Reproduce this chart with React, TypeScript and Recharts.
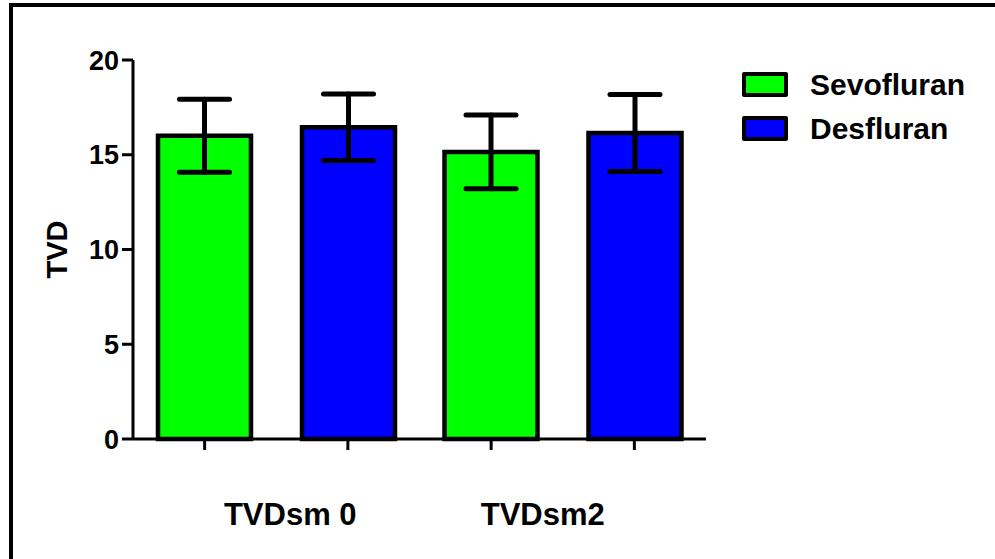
import { BarChart, Bar, XAxis, YAxis, ErrorBar } from "recharts";

const CATEGORIES = ["TVDsm 0", "TVDsm2"];
const SEVO_MEAN = [16.0, 15.15];
const SEVO_SD = [1.93, 1.95];
const DES_MEAN = [16.45, 16.15];
const DES_SD = [1.75, 2.03];
const Y_TICKS = [0, 5, 10, 15, 20];

const SERIES = [
  { key: "sevo", name: "Sevofluran", color: "#00ff00" },
  { key: "des", name: "Desfluran", color: "#0000ff" },
];

const FONT = "Arial, 'Liberation Sans', sans-serif";
const W = 995;
const H = 559;
const MARGIN = { top: 60, right: 289, bottom: 0, left: 13 };
const Y_W = 120;
const X_H = 120;
// small nudges so the category labels sit where the original put them
const LABEL_NUDGE = [14, -20];

const data = CATEGORIES.map((c, i) => ({
  name: c,
  sevo: SEVO_MEAN[i],
  sevoErr: SEVO_SD[i],
  des: DES_MEAN[i],
  desErr: DES_SD[i],
}));

const plotW = W - MARGIN.left - MARGIN.right - Y_W;
const band = plotW / CATEGORIES.length;

function CatTick(props: any) {
  const { x, y, payload, index } = props;
  const q = band / 4;
  return (
    <g>
      {[-q, q].map((d) => (
        <line key={d} x1={x + d} x2={x + d} y1={y} y2={y + 11} stroke="#000" strokeWidth={3} />
      ))}
      <text
        x={x + (LABEL_NUDGE[index] || 0)}
        y={y + 86}
        textAnchor="middle"
        fontFamily={FONT}
        fontWeight="bold"
        fontSize={31}
        fill="#000"
      >
        {payload.value}
      </text>
    </g>
  );
}

function LegendBox() {
  return (
    <div style={{ position: "absolute", left: 742, top: 71, fontFamily: FONT }}>
      {SERIES.map((s) => (
        <div key={s.key} style={{ display: "flex", alignItems: "center", height: 27, marginBottom: 17 }}>
          <div
            style={{
              width: 38,
              height: 17,
              background: s.color,
              border: "4px solid #000",
              borderRadius: 2,
            }}
          />
          <span style={{ marginLeft: 22, fontSize: 30, fontWeight: "bold", color: "#000" }}>{s.name}</span>
        </div>
      ))}
    </div>
  );
}

export default function App() {
  return (
    <div style={{ position: "absolute", left: 0, top: 0, width: W, height: H, overflow: "hidden", background: "#fff" }}>
      <div
        style={{
          position: "absolute",
          left: 9,
          top: 3,
          width: W + 20,
          height: H + 20,
          borderTop: "4px solid #000",
          borderLeft: "4px solid #000",
        }}
      />
      <BarChart width={W} height={H} data={data} margin={MARGIN} barSize={93} barGap={51}>
        <XAxis
          dataKey="name"
          height={X_H}
          axisLine={{ stroke: "#000", strokeWidth: 3 }}
          tickLine={false}
          tickSize={0}
          tickMargin={0}
          tick={<CatTick />}
          interval={0}
        />
        <YAxis
          width={Y_W}
          domain={[0, 20]}
          ticks={Y_TICKS}
          axisLine={{ stroke: "#000", strokeWidth: 3 }}
          tickLine={{ stroke: "#000", strokeWidth: 3 }}
          tickSize={11}
          tickMargin={3}
          tick={{ fill: "#000", fontFamily: FONT, fontWeight: "bold", fontSize: 27 }}
          label={{
            content: (p: any) => {
              const vb = p.viewBox;
              const cx = vb.x + 44;
              const cy = vb.y + vb.height / 2;
              return (
                <text
                  x={cx}
                  y={cy}
                  transform={`rotate(-90 ${cx} ${cy})`}
                  textAnchor="middle"
                  dominantBaseline="central"
                  fontFamily={FONT}
                  fontWeight="bold"
                  fontSize={29}
                  fill="#000"
                >
                  TVD
                </text>
              );
            },
          }}
        />
        {SERIES.map((s) => (
          <Bar
            key={s.key}
            dataKey={s.key}
            name={s.name}
            fill={s.color}
            stroke="#000"
            strokeWidth={4.5}
            isAnimationActive={false}
          >
            <ErrorBar
              dataKey={s.key + "Err"}
              width={25}
              stroke="#000"
              strokeWidth={5}
              strokeLinecap="round"
            />
          </Bar>
        ))}
      </BarChart>
      <LegendBox />
    </div>
  );
}
